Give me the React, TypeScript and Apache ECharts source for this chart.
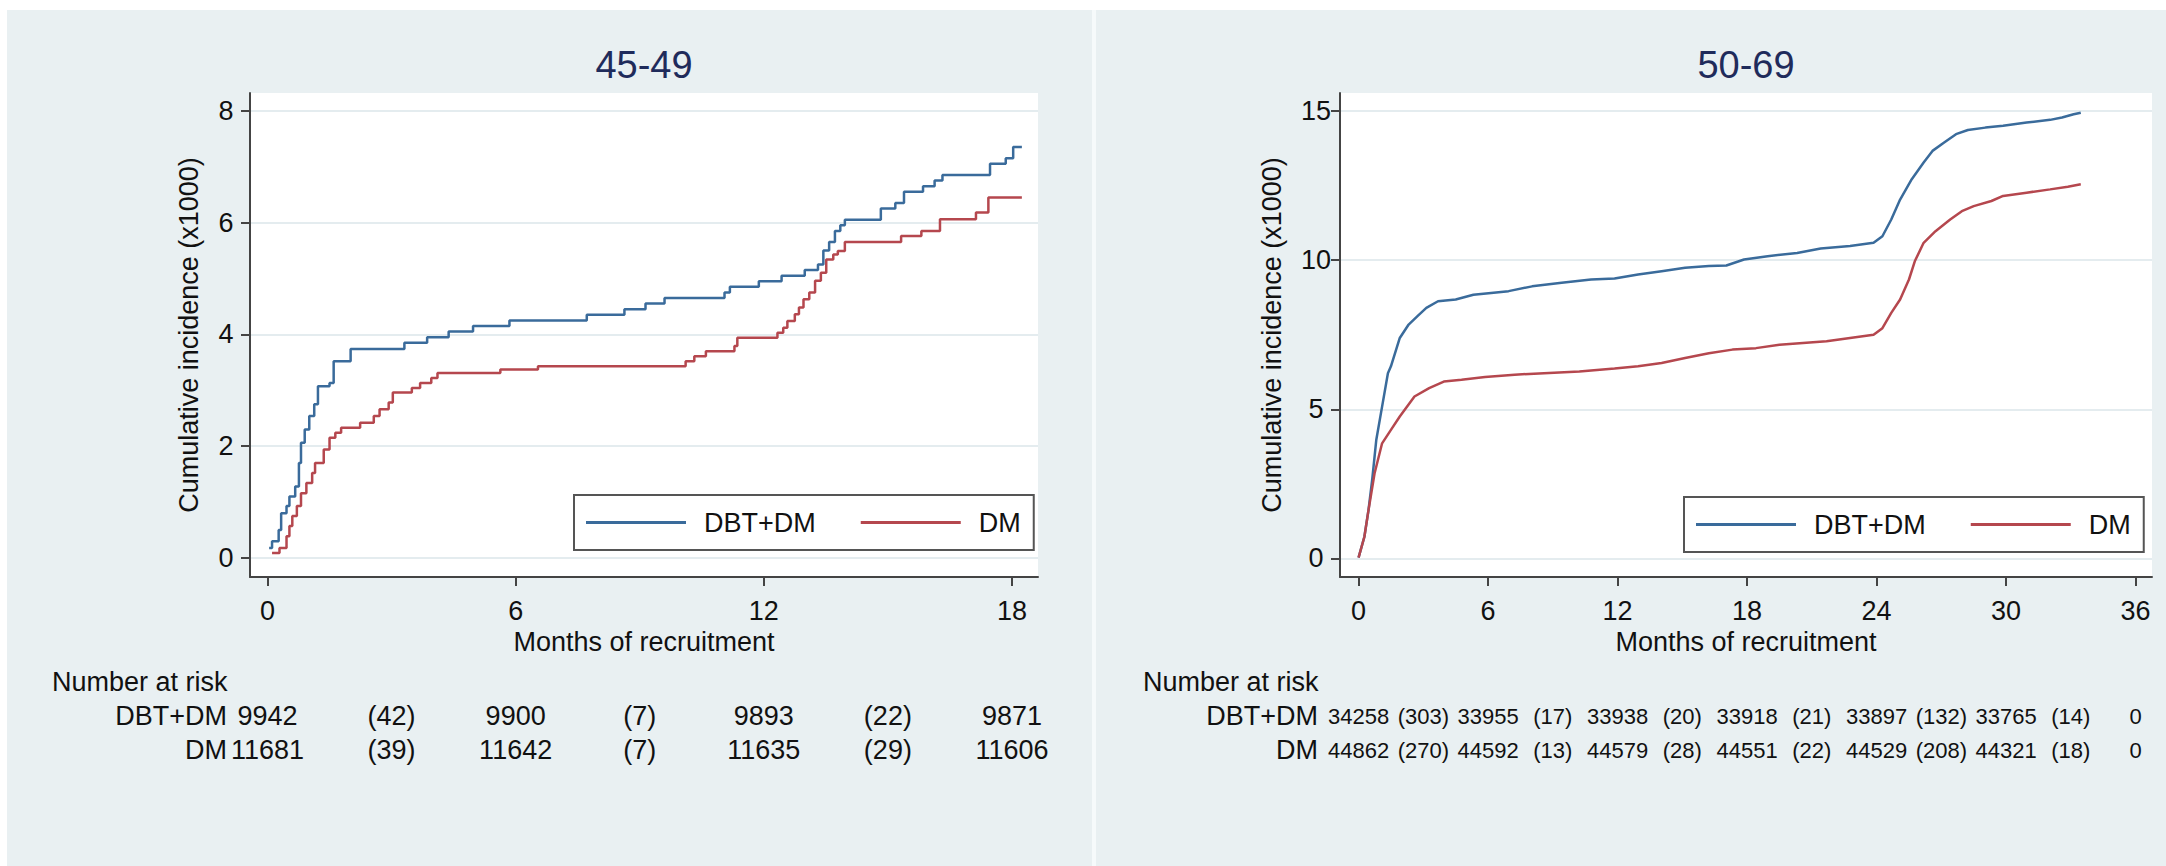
import React, { useEffect, useRef } from 'react';
import * as echarts from 'echarts';

// ---------- data ----------
const panelTitles = ['45-49', '50-69'];
const seriesNames = ['DBT+DM', 'DM'];
const xAxisTitle = 'Months of recruitment';
const yAxisTitle = 'Cumulative incidence (x1000)';
const riskTitle = 'Number at risk';

const leftXTicks = [0, 6, 12, 18];
const leftYTicks = [0, 2, 4, 6, 8];
const rightXTicks = [0, 6, 12, 18, 24, 30, 36];
const rightYTicks = [0, 5, 10, 15];

// 45-49: [month, cumulative incidence x1000] (step curves)
const leftDbt: [number, number][] = [
  [0.04, 0.18], [0.11, 0.3], [0.27, 0.5], [0.33, 0.8], [0.46, 0.93], [0.53, 1.1],
  [0.67, 1.28], [0.76, 1.7], [0.81, 2.06], [0.9, 2.3], [1.01, 2.54], [1.13, 2.75],
  [1.22, 3.07], [1.5, 3.13], [1.6, 3.52], [2.01, 3.74], [3.31, 3.85], [3.86, 3.95],
  [4.38, 4.05], [4.97, 4.15], [5.85, 4.25], [7.72, 4.35], [8.63, 4.45], [9.14, 4.55],
  [9.6, 4.65], [11.05, 4.75], [11.18, 4.85], [11.88, 4.95], [12.43, 5.05], [12.99, 5.15],
  [13.31, 5.25], [13.44, 5.5], [13.58, 5.65], [13.72, 5.85], [13.85, 5.95], [13.96, 6.05],
  [14.83, 6.25], [15.18, 6.35], [15.39, 6.55], [15.85, 6.65], [16.13, 6.75], [16.32, 6.85],
  [17.47, 7.05], [17.85, 7.15], [18.03, 7.35], [18.24, 7.35],
];
const leftDm: [number, number][] = [
  [0.11, 0.09], [0.29, 0.18], [0.46, 0.39], [0.53, 0.57], [0.6, 0.75], [0.71, 0.93],
  [0.81, 1.16], [0.94, 1.34], [1.08, 1.52], [1.15, 1.7], [1.36, 1.94], [1.5, 2.15],
  [1.64, 2.24], [1.78, 2.33], [2.24, 2.42], [2.57, 2.54], [2.71, 2.66], [2.93, 2.78],
  [3.03, 2.96], [3.49, 3.04], [3.69, 3.13], [3.96, 3.22], [4.11, 3.31], [5.63, 3.37],
  [6.54, 3.43], [10.11, 3.52], [10.32, 3.61], [10.6, 3.7], [11.29, 3.79], [11.36, 3.94],
  [12.33, 4.03], [12.47, 4.12], [12.57, 4.24], [12.75, 4.36], [12.85, 4.48], [12.96, 4.63],
  [13.1, 4.75], [13.24, 4.96], [13.38, 5.1], [13.51, 5.34], [13.68, 5.43], [13.79, 5.49],
  [13.96, 5.65], [15.32, 5.76], [15.81, 5.85], [16.26, 6.06], [17.13, 6.18], [17.43, 6.45],
  [18.24, 6.45],
];

// 50-69
const rightDbt: [number, number][] = [
  [0.0, 0.03], [0.27, 0.73], [0.46, 1.62], [0.63, 2.63], [0.82, 3.97], [1.09, 5.09],
  [1.36, 6.21], [1.5, 6.44], [1.91, 7.39], [2.32, 7.84], [2.73, 8.12], [3.14, 8.4],
  [3.68, 8.62], [4.5, 8.68], [5.32, 8.84], [6.14, 8.9], [6.95, 8.96], [8.04, 9.12],
  [9.41, 9.24], [10.77, 9.35], [11.86, 9.38], [12.95, 9.52], [14.04, 9.63], [15.13, 9.74],
  [16.23, 9.8], [17.04, 9.82], [17.86, 10.02], [18.95, 10.13], [20.32, 10.24], [21.41, 10.39],
  [22.77, 10.47], [23.86, 10.58], [24.27, 10.8], [24.68, 11.36], [25.09, 12.03], [25.63, 12.71],
  [26.18, 13.27], [26.59, 13.66], [27.13, 13.94], [27.68, 14.22], [28.23, 14.36], [29.04, 14.44],
  [29.86, 14.5], [30.95, 14.61], [32.04, 14.7], [32.59, 14.78], [33.13, 14.89], [33.46, 14.94],
];
const rightDm: [number, number][] = [
  [0.0, 0.03], [0.27, 0.73], [0.46, 1.62], [0.74, 2.85], [1.09, 3.86], [1.5, 4.31],
  [1.91, 4.76], [2.59, 5.43], [3.27, 5.71], [3.95, 5.93], [4.77, 5.99], [5.86, 6.08],
  [7.23, 6.16], [8.59, 6.21], [10.23, 6.27], [11.86, 6.37], [12.95, 6.44], [14.04, 6.55],
  [15.13, 6.72], [16.23, 6.88], [17.32, 7.0], [18.41, 7.05], [19.5, 7.16], [20.59, 7.22],
  [21.68, 7.28], [22.77, 7.39], [23.86, 7.5], [24.27, 7.72], [24.68, 8.23], [25.09, 8.68],
  [25.5, 9.35], [25.77, 9.96], [26.18, 10.58], [26.73, 10.97], [27.41, 11.36], [27.95, 11.64],
  [28.5, 11.81], [29.32, 11.98], [29.86, 12.15], [30.95, 12.26], [32.04, 12.37], [32.86, 12.46],
  [33.46, 12.54],
];

// number-at-risk tables
const leftRiskMonths = [0, 3, 6, 9, 12, 15, 18];
const leftRiskDbt = ['9942', '(42)', '9900', '(7)', '9893', '(22)', '9871'];
const leftRiskDm = ['11681', '(39)', '11642', '(7)', '11635', '(29)', '11606'];
const rightRiskMonths = [0, 3, 6, 9, 12, 15, 18, 21, 24, 27, 30, 33, 36];
const rightRiskDbt = ['34258', '(303)', '33955', '(17)', '33938', '(20)', '33918', '(21)', '33897', '(132)', '33765', '(14)', '0'];
const rightRiskDm = ['44862', '(270)', '44592', '(13)', '44579', '(28)', '44551', '(22)', '44529', '(208)', '44321', '(18)', '0'];

// ---------- styles ----------
const FONT = "'Liberation Sans', Arial, Helvetica, sans-serif";
const BLUE = '#3a6b9b';
const RED = '#b5474e';
const BG = '#e9f0f2';
const AXIS = '#444';
const TXT = '#111';

export default function App() {
  const ref = useRef<HTMLDivElement>(null);

  useEffect(() => {
    const chart = echarts.init(ref.current!, null, { renderer: 'svg' });

    const makeX = (gridIndex: number, min: number, max: number, ticks: number[]) => ({
      type: 'value', gridIndex, min, max,
      name: xAxisTitle, nameLocation: 'middle', nameGap: 51,
      nameTextStyle: { fontSize: 27, color: TXT, fontFamily: FONT },
      axisLine: { show: true, onZero: false, lineStyle: { color: AXIS, width: 2 } },
      axisTick: { show: true, length: 9, customValues: ticks, lineStyle: { color: AXIS, width: 2 } },
      axisLabel: { customValues: ticks, fontSize: 27, color: TXT, fontFamily: FONT, margin: 20 },
      splitLine: { show: false },
    });
    const makeY = (gridIndex: number, min: number, max: number, ticks: number[], nameGap: number) => ({
      type: 'value', gridIndex, min, max,
      name: yAxisTitle, nameLocation: 'middle', nameGap,
      nameTextStyle: { fontSize: 27, color: TXT, fontFamily: FONT },
      axisLine: { show: true, onZero: false, lineStyle: { color: AXIS, width: 2 } },
      axisTick: { show: true, length: 9, customValues: ticks, lineStyle: { color: AXIS, width: 2 } },
      axisLabel: { customValues: ticks, fontSize: 27, color: TXT, fontFamily: FONT, margin: 24, align: 'center' },
      splitLine: { show: true, lineStyle: { color: '#e4ecef', width: 2 } },
    });
    const makeLegend = (left: number, top: number) => ({
      left, top, data: seriesNames, orient: 'horizontal',
      icon: 'rect', itemWidth: 100, itemHeight: 3, itemGap: 45,
      padding: [14, 13, 14, 12],
      borderColor: '#555', borderWidth: 2, backgroundColor: '#fff',
      selectedMode: false,
      textStyle: { fontSize: 27, color: TXT, fontFamily: FONT, padding: [0, 0, 0, 13] },
    });
    const line = (name: string, data: [number, number][], idx: number, color: string, step: any) => ({
      type: 'line', name, data, xAxisIndex: idx, yAxisIndex: idx,
      step, symbol: 'none', showSymbol: false, smooth: false,
      lineStyle: { color, width: 2.5 }, itemStyle: { color },
      emphasis: { disabled: true }, silent: true,
    });

    chart.setOption({
      animation: false,
      backgroundColor: BG,
      textStyle: { fontFamily: FONT },
      grid: [
        { left: 250, top: 93, width: 788, height: 484, show: true, backgroundColor: '#fff', borderWidth: 0, outerBoundsMode: 'none' },
        { left: 1340, top: 93, width: 812, height: 484, show: true, backgroundColor: '#fff', borderWidth: 0, outerBoundsMode: 'none' },
      ],
      xAxis: [makeX(0, -0.423, 18.63, leftXTicks), makeX(1, -0.86, 36.76, rightXTicks)],
      yAxis: [makeY(0, -0.34, 8.317, leftYTicks, 48), makeY(1, -0.62, 15.6, rightYTicks, 55)],
      legend: [makeLegend(574, 495), makeLegend(1684, 497)],
      series: [
        line(seriesNames[0], leftDbt, 0, BLUE, 'end'),
        line(seriesNames[1], leftDm, 0, RED, 'end'),
        line(seriesNames[0], rightDbt, 1, BLUE, false),
        line(seriesNames[1], rightDm, 1, RED, false),
      ],
    });

    const px = (axis: number, m: number) => chart.convertToPixel({ xAxisIndex: axis }, m) as number;
    const txt = (x: number, y: number, text: string, size: number, align: string, color = TXT) => ({
      type: 'text', x, y, silent: true,
      style: { text, fill: color, fontSize: size, fontFamily: FONT, align, verticalAlign: 'middle' },
    });

    const gfx: any[] = [
      { type: 'rect', shape: { x: 0, y: 0, width: 2166, height: 10 }, style: { fill: '#ffffff' }, silent: true },
      { type: 'rect', shape: { x: 0, y: 0, width: 7, height: 866 }, style: { fill: '#ffffff' }, silent: true },
      { type: 'rect', shape: { x: 1092, y: 10, width: 4, height: 856 }, style: { fill: '#f6fafb' }, silent: true },
      txt((px(0, -0.423) + px(0, 18.63)) / 2, 65, panelTitles[0], 38, 'center', '#1f2b5b'),
      txt((px(1, -0.86) + px(1, 36.76)) / 2, 65, panelTitles[1], 38, 'center', '#1f2b5b'),
      txt(52, 682, riskTitle, 27, 'left'),
      txt(1143, 682, riskTitle, 27, 'left'),
      txt(227, 716, seriesNames[0], 27, 'right'),
      txt(227, 750, seriesNames[1], 27, 'right'),
      txt(1318, 716, seriesNames[0], 27, 'right'),
      txt(1318, 750, seriesNames[1], 27, 'right'),
    ];
    leftRiskMonths.forEach((m, i) => {
      gfx.push(txt(px(0, m), 716, leftRiskDbt[i], 27, 'center'));
      gfx.push(txt(px(0, m), 750, leftRiskDm[i], 27, 'center'));
    });
    rightRiskMonths.forEach((m, i) => {
      gfx.push(txt(px(1, m), 716, rightRiskDbt[i], 22, 'center'));
      gfx.push(txt(px(1, m), 750, rightRiskDm[i], 22, 'center'));
    });
    chart.setOption({ graphic: { elements: gfx } });

    return () => chart.dispose();
  }, []);

  return <div ref={ref} style={{ position: 'absolute', left: 0, top: 0, width: 2166, height: 866 }} />;
}
